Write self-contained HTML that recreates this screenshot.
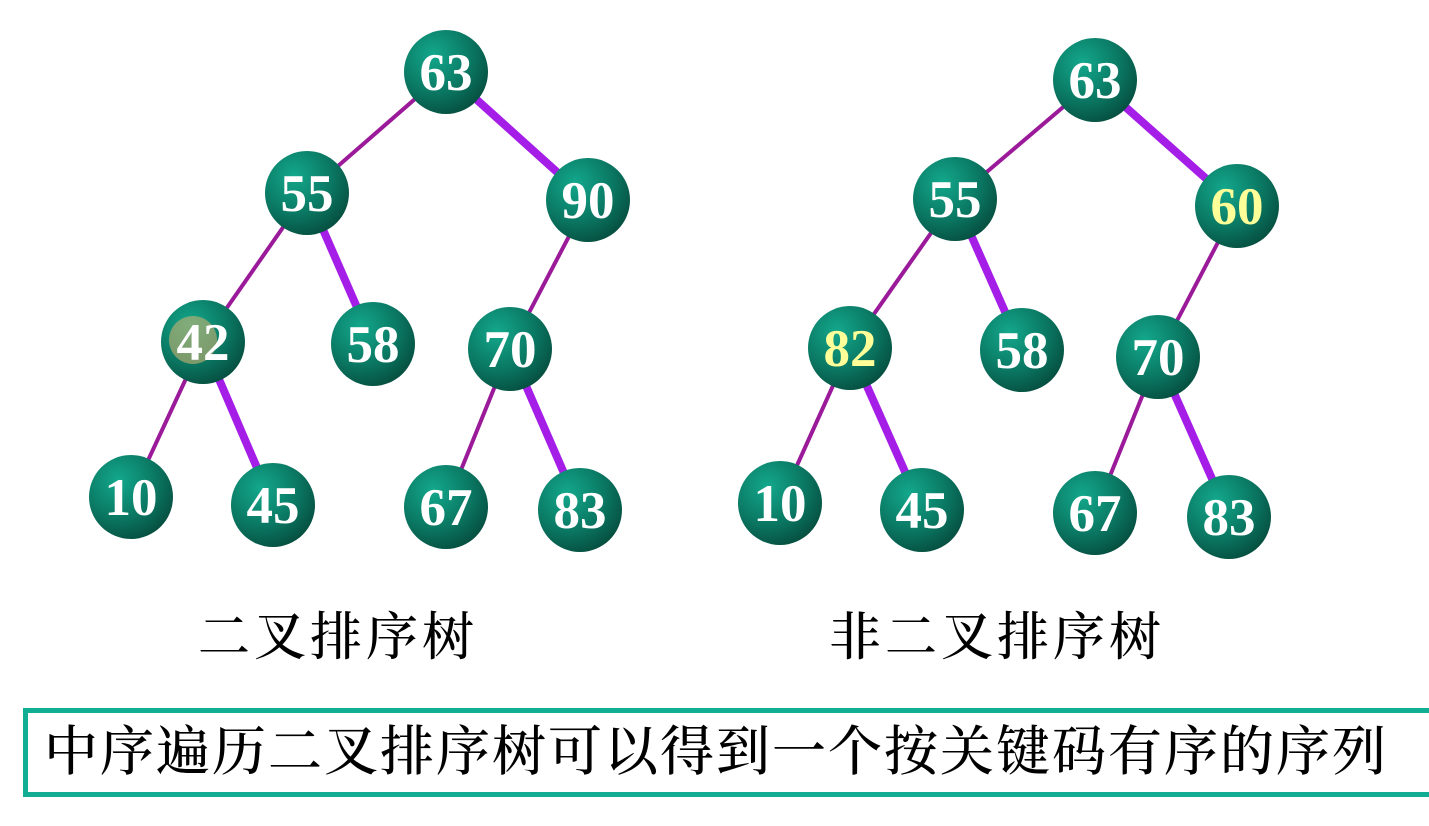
<!DOCTYPE html>
<html><head><meta charset="utf-8"><style>
html,body{margin:0;padding:0;background:#fff;}
body{width:1429px;height:826px;position:relative;overflow:hidden;}
svg{position:absolute;left:0;top:0;}
.lbl{position:absolute;font-family:"Liberation Serif","Noto Serif CJK SC",serif;color:#000;white-space:nowrap;}
.box{position:absolute;left:23px;top:708px;width:1420px;height:79px;border:5px solid #12ae93;box-sizing:content-box;}
</style></head><body>
<svg width="1429" height="826" viewBox="0 0 1429 826">
<defs>
<radialGradient id="g" cx="35%" cy="30%" r="75%">
<stop offset="0" stop-color="#13a88c"/>
<stop offset="0.6" stop-color="#0a7762"/>
<stop offset="1" stop-color="#064f40"/>
</radialGradient>
</defs>
<g stroke-linecap="butt">
<line x1="446" y1="72" x2="307" y2="193" stroke="#9a1a9a" stroke-width="4"/>
<line x1="446" y1="72" x2="588" y2="200" stroke="#a51ee8" stroke-width="8"/>
<line x1="307" y1="193" x2="203" y2="342" stroke="#9a1a9a" stroke-width="4"/>
<line x1="307" y1="193" x2="373" y2="344" stroke="#a51ee8" stroke-width="8"/>
<line x1="588" y1="200" x2="510" y2="349" stroke="#9a1a9a" stroke-width="4"/>
<line x1="203" y1="342" x2="131" y2="497" stroke="#9a1a9a" stroke-width="4"/>
<line x1="203" y1="342" x2="273" y2="505" stroke="#a51ee8" stroke-width="8"/>
<line x1="510" y1="349" x2="446" y2="507" stroke="#9a1a9a" stroke-width="4"/>
<line x1="510" y1="349" x2="580" y2="510" stroke="#a51ee8" stroke-width="8"/>
<line x1="1095" y1="80" x2="955" y2="199" stroke="#9a1a9a" stroke-width="4"/>
<line x1="1095" y1="80" x2="1237" y2="206" stroke="#a51ee8" stroke-width="8"/>
<line x1="955" y1="199" x2="850" y2="348" stroke="#9a1a9a" stroke-width="4"/>
<line x1="955" y1="199" x2="1022" y2="350" stroke="#a51ee8" stroke-width="8"/>
<line x1="1237" y1="206" x2="1158" y2="357" stroke="#9a1a9a" stroke-width="4"/>
<line x1="850" y1="348" x2="780" y2="503" stroke="#9a1a9a" stroke-width="4"/>
<line x1="850" y1="348" x2="922" y2="510" stroke="#a51ee8" stroke-width="8"/>
<line x1="1158" y1="357" x2="1095" y2="513" stroke="#9a1a9a" stroke-width="4"/>
<line x1="1158" y1="357" x2="1229" y2="517" stroke="#a51ee8" stroke-width="8"/>
</g>
<g font-family="Liberation Serif, serif" font-weight="bold" font-size="53" text-anchor="middle">
<g fill="url(#g)">
<circle cx="446" cy="72" r="42"/><circle cx="307" cy="193" r="42"/><circle cx="588" cy="200" r="42"/>
<circle cx="203" cy="342" r="42"/><circle cx="373" cy="344" r="42"/><circle cx="510" cy="349" r="42"/>
<circle cx="131" cy="497" r="42"/><circle cx="273" cy="505" r="42"/><circle cx="446" cy="507" r="42"/><circle cx="580" cy="510" r="42"/>
<circle cx="1095" cy="80" r="42"/><circle cx="955" cy="199" r="42"/><circle cx="1237" cy="206" r="42"/>
<circle cx="850" cy="348" r="42"/><circle cx="1022" cy="350" r="42"/><circle cx="1158" cy="357" r="42"/>
<circle cx="780" cy="503" r="42"/><circle cx="922" cy="510" r="42"/><circle cx="1095" cy="513" r="42"/><circle cx="1229" cy="517" r="42"/>
</g>
<circle cx="193" cy="340" r="24" fill="#c9b070" opacity="0.6"/>
<g fill="#fff">
<text x="446" y="90">63</text><text x="307" y="211">55</text><text x="588" y="218">90</text>
<text x="203" y="360">42</text><text x="373" y="362">58</text><text x="510" y="367">70</text>
<text x="131" y="515">10</text><text x="273" y="523">45</text><text x="446" y="525">67</text><text x="580" y="528">83</text>
<text x="1095" y="98">63</text><text x="955" y="217">55</text>
<text x="1022" y="368">58</text><text x="1158" y="375">70</text>
<text x="780" y="521">10</text><text x="922" y="528">45</text><text x="1095" y="531">67</text><text x="1229" y="535">83</text>
</g>
<g fill="#ffff99">
<text x="1237" y="224">60</text><text x="850" y="366">82</text>
</g>
</g>
</svg>
<div class="lbl" style="left:198px;top:606px;font-size:52px;letter-spacing:4px;line-height:66px;font-weight:500;">二叉排序树</div>
<div class="lbl" style="left:829px;top:606px;font-size:52px;letter-spacing:4px;line-height:66px;font-weight:500;">非二叉排序树</div>
<div class="box"></div>
<div class="lbl" style="left:44px;top:716px;font-size:54px;letter-spacing:2px;line-height:72px;font-weight:500;">中序遍历二叉排序树可以得到一个按关键码有序的序列</div>
</body></html>
